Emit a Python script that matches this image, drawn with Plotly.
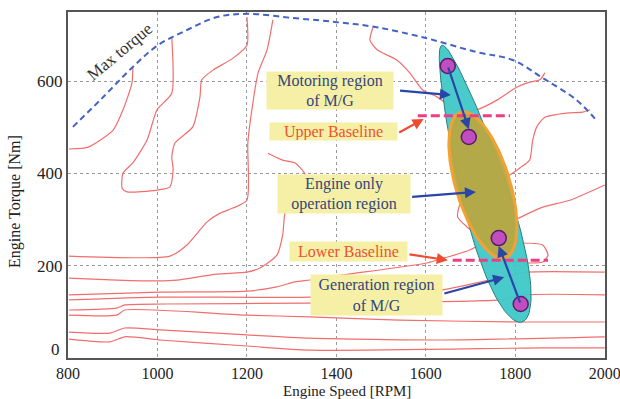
import numpy as np
import plotly.graph_objects as go

# ---------------- data ----------------
x_ticks = [800, 1000, 1200, 1400, 1600, 1800, 2000]
y_ticks = [0, 200, 400, 600]
y_ticktext = ["", "200", "400", "600"]  # "0" is written slightly raised, as in the source

max_torque_rpm = [811, 872, 945, 1001, 1066, 1133, 1200, 1303, 1401, 1490, 1598, 1714, 1794, 1861, 1937, 1984]
max_torque_nm = [501, 559, 631, 678, 711, 739, 746, 737, 728, 717, 694, 663, 646, 607, 559, 512]

# efficiency contour lines (rpm, Nm)
cA_rpm = [802, 845, 901, 923, 943, 945]
cA_nm = [453, 457, 494, 538, 596, 629]
cB_rpm = [1032, 1032, 999, 977, 945, 923, 921, 932, 999, 1028, 1035, 1032, 1039, 1079, 1095, 1099, 1124, 1169, 1200, 1200]
cB_nm = [694, 574, 538, 473, 423, 401, 368, 360, 364, 371, 408, 436, 466, 501, 566, 603, 624, 650, 678, 739]
cC_rpm = [802, 1028, 1066, 1111, 1140, 1169, 1200, 1202, 1211, 1225, 1245, 1258]
cC_nm = [221, 221, 245, 295, 314, 325, 342, 466, 538, 618, 668, 733]
cD_rpm = [802, 909, 1001, 1044, 1133, 1200, 1229, 1267, 1280, 1285, 1307, 1330, 1307, 1280, 1247]
cD_nm = [173, 169, 167, 169, 182, 186, 195, 223, 267, 314, 364, 397, 423, 429, 444]
cE_rpm = [1482, 1475, 1491, 1535, 1564, 1593, 1625, 1676, 1714, 1759, 1803, 1832, 1855, 1866]
cE_nm = [717, 689, 668, 646, 618, 581, 566, 533, 538, 559, 587, 598, 603, 618]
cF_rpm = [802, 1006, 1200, 1267, 1307, 1341, 1415, 1602, 1642, 1698, 1716, 1714, 1692, 1671, 1676, 1698, 1743, 1788, 1810, 1832, 1839, 1848, 1866, 1915, 1951, 1967]
cF_nm = [137, 143, 145, 154, 165, 169, 180, 206, 217, 234, 245, 267, 284, 306, 332, 353, 375, 397, 412, 429, 473, 501, 522, 531, 533, 538]
cG_rpm = [2000, 1922, 1861, 1799]
cG_nm = [375, 342, 327, 299]
cH_rpm = [1777, 1861, 1873, 1861, 1777]
cH_nm = [249, 245, 223, 208, 208]
cL4_rpm = [802, 1006, 1341, 1631, 1742, 1826, 2000]
cL4_nm = [126, 132, 132, 147, 169, 186, 186]
cL5_rpm = [802, 909, 927, 1017, 1341, 1765, 1826, 2000]
cL5_nm = [104, 108, 115, 117, 119, 126, 137, 137]
cL6_rpm = [802, 909, 927, 1200, 1341, 1541, 1826, 2000]
cL6_nm = [93, 93, 104, 93, 89, 82, 78, 78]
cL7_rpm = [802, 894, 927, 1006, 1200, 1341, 1638, 2000]
cL7_nm = [56, 54, 65, 61, 50, 43, 39, 46]
cL8_rpm = [802, 894, 927, 1006, 1200, 1341, 1861, 2000]
cL8_nm = [41, 35, 46, 39, 26, 17, 22, 22]

contours = [(cA_rpm, cA_nm), (cB_rpm, cB_nm), (cC_rpm, cC_nm), (cD_rpm, cD_nm),
            (cE_rpm, cE_nm), (cF_rpm, cF_nm), (cG_rpm, cG_nm), (cH_rpm, cH_nm),
            (cL4_rpm, cL4_nm), (cL5_rpm, cL5_nm), (cL6_rpm, cL6_nm),
            (cL7_rpm, cL7_nm), (cL8_rpm, cL8_nm)]

# operating region ellipses: tips (rpm, Nm)
mg_region_tips_rpm = [1636, 1815]
mg_region_tips_nm = [678, 78]
eng_region_tips_rpm = [1678, 1777]
eng_region_tips_nm = [533, 217]

# baselines
upper_base_rpm = [1582, 1788]
upper_base_nm = [525, 525]
lower_base_rpm = [1660, 1873]
lower_base_nm = [212, 212]

# operating points
pts_rpm = [1649, 1696, 1763, 1812]
pts_nm = [633, 479, 260, 117]

# ---------------- geometry helpers ----------------
W, H = 620, 399
ML, MR, MT, MB = 68, 15, 12, 41
PW, PH = W - ML - MR, H - MT - MB
XR, YR = [800, 2000.5], [0, 750]
sx = PW / (XR[1] - XR[0])
sy = PH / (YR[1] - YR[0])


def ellipse(tips_x, tips_y, b0, b1=0.0, n=120):
    p1 = np.array([tips_x[0] * sx, tips_y[0] * sy])
    p2 = np.array([tips_x[1] * sx, tips_y[1] * sy])
    c = (p1 + p2) / 2
    d = p2 - p1
    a = np.linalg.norm(d) / 2
    u = d / np.linalg.norm(d)
    v = np.array([-u[1], u[0]])
    t = np.linspace(0, 2 * np.pi, n)
    s = np.cos(t)
    w = np.sin(t) * (b0 + b1 * s)
    pts = c[None, :] + np.outer(a * s, u) + np.outer(w, v)
    return pts[:, 0] / sx, pts[:, 1] / sy


fig = go.Figure()

red = "#f06e6e"
for cx, cy in contours:
    fig.add_trace(go.Scatter(x=cx, y=cy, mode="lines", line=dict(color=red, width=1.2, shape="spline", smoothing=0.6),
                             hoverinfo="skip", showlegend=False))

fig.add_trace(go.Scatter(x=max_torque_rpm, y=max_torque_nm, mode="lines",
                         line=dict(color="#4262c4", width=2, dash="6px,4px", shape="spline"),
                         showlegend=False, hoverinfo="skip"))

ex, ey = ellipse(mg_region_tips_rpm, mg_region_tips_nm, 23, 8)
fig.add_trace(go.Scatter(x=ex, y=ey, mode="lines", fill="toself", fillcolor="rgba(64,200,200,0.95)",
                         line=dict(color="#2a8080", width=1), showlegend=False, hoverinfo="skip"))
ex, ey = ellipse(eng_region_tips_rpm, eng_region_tips_nm, 27, 0)
fig.add_trace(go.Scatter(x=ex, y=ey, mode="lines", fill="toself", fillcolor="rgba(184,166,64,0.95)",
                         line=dict(color="#f2a235", width=3), showlegend=False, hoverinfo="skip"))

for bx, by in [(upper_base_rpm, upper_base_nm), (lower_base_rpm, lower_base_nm)]:
    fig.add_trace(go.Scatter(x=bx, y=by, mode="lines", line=dict(color="#f03c80", width=3, dash="9px,4px"),
                             showlegend=False, hoverinfo="skip"))

fig.add_trace(go.Scatter(x=pts_rpm, y=pts_nm, mode="markers",
                         marker=dict(size=15, color="#c04ec0", line=dict(color="#5a1c6a", width=1.5)),
                         showlegend=False, hoverinfo="skip"))

serif = "Liberation Serif, Times New Roman, DejaVu Serif, serif"
blue_txt = "#33457c"
red_txt = "#ee5030"
box_bg = "#f6f0a6"

labels = [
    ("Motoring region<br>of M/G", 1386, 579, 126, 37, blue_txt),
    ("Upper Baseline", 1393, 490, 127, 17, red_txt),
    ("Engine only<br>operation region", 1418, 355, 132, 38, blue_txt),
    ("Lower Baseline", 1427, 230, 117, 19, red_txt),
    ("Generation region<br>of M/G", 1490, 136, 131, 40, blue_txt),
]
for txt, x, y, w, h, col in labels:
    fig.add_annotation(x=x, y=y, text=txt, showarrow=False, bgcolor=box_bg, width=w, height=h,
                       borderpad=0, font=dict(family=serif, size=16, color=col))

arrows = [
    # head x, head y, tail x, tail y, colour
    (1656, 570, 1539, 580, "#2846a8"),
    (1595, 518, 1537, 487, "#f04a30"),
    (1712, 360, 1566, 349, "#2846a8"),
    (1649, 212, 1560, 225, "#f04a30"),
    (1775, 175, 1638, 139, "#2846a8"),
    (1696, 496, 1649, 633, "#2846a8"),
    (1763, 243, 1812, 117, "#2846a8"),
]
for hx, hy, tx, ty, col in arrows:
    fig.add_annotation(x=hx, y=hy, ax=tx, ay=ty, xref="x", yref="y", axref="x", ayref="y",
                       text="", showarrow=True, arrowhead=2, arrowsize=1, arrowwidth=2.2, arrowcolor=col)

fig.add_annotation(x=916, y=665, text="Max torque", showarrow=False, textangle=-40,
                   font=dict(family=serif, size=17, color="#333333"))

# raised "0" tick label
fig.add_annotation(xref="paper", yref="y", x=-0.012, y=y_ticks[0], yshift=9, text=str(y_ticks[0]),
                   showarrow=False, xanchor="right", yanchor="middle",
                   font=dict(family=serif, size=17, color="#222222"))

fig.add_annotation(xref="paper", yref="paper", x=0.52, y=-0.094, text="Engine Speed [RPM]", showarrow=False,
                   font=dict(family=serif, size=15, color="#222222"), yanchor="middle")
fig.add_annotation(xref="paper", yref="paper", x=-0.0987, y=0.454, text="Engine Torque [Nm]", showarrow=False,
                   textangle=-90, font=dict(family=serif, size=16, color="#222222"), xanchor="center")

axis_common = dict(showline=True, mirror=True, linecolor="#555555", linewidth=2, showgrid=True,
                   gridcolor="#9a9a9a", griddash="3px,3px", gridwidth=1.3, zeroline=False, ticks="",
                   ticklabeloverflow="allow", automargin=False)
fig.update_xaxes(range=XR, tickvals=x_ticks, tickfont=dict(family=serif, size=16, color="#222222"),
                 **axis_common)
fig.update_yaxes(range=YR, tickvals=y_ticks, ticktext=y_ticktext,
                 tickfont=dict(family=serif, size=17, color="#222222"), **axis_common)

fig.update_layout(width=W, height=H, margin=dict(l=ML, r=MR, t=MT, b=MB, autoexpand=False),
                  plot_bgcolor="white", paper_bgcolor="white", showlegend=False,
                  font=dict(family=serif))

fig.write_html("out.html")
